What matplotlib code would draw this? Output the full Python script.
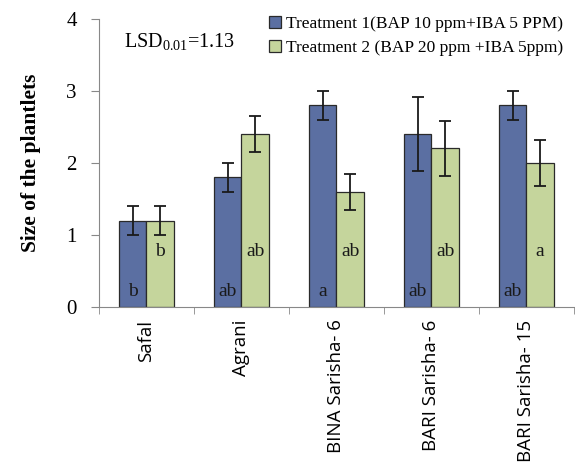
import numpy as np
import matplotlib.pyplot as plt

varieties = ["Safal", "Agrani", "BINA Sarisha- 6", "BARI Sarisha- 6", "BARI Sarisha- 15"]
t1_size = [1.2, 1.8, 2.8, 2.4, 2.8]
t1_err = [0.2, 0.2, 0.2, 0.51, 0.2]
t2_size = [1.2, 2.4, 1.6, 2.2, 2.0]
t2_err = [0.2, 0.25, 0.25, 0.38, 0.32]
t1_letters = ["b", "ab", "a", "ab", "ab"]
t2_letters = ["b", "ab", "ab", "ab", "a"]
t1_name = "Treatment 1(BAP 10 ppm+IBA 5 PPM)"
t2_name = "Treatment 2 (BAP 20 ppm +IBA 5ppm)"

serif = "Liberation Serif"
blue = "#5b6fa2"
green = "#c5d59c"

fig = plt.figure(figsize=(5.75, 4.68), dpi=100)
ax = fig.add_axes([0.172, 0.344, 0.826, 0.616])

x = np.arange(len(varieties))
w = 0.29
ax.bar(x - w / 2, t1_size, w, color=blue, edgecolor="#2a2a2a", linewidth=0.9,
       yerr=t1_err, error_kw=dict(ecolor="#1a1a1a", elinewidth=1.3, capsize=4, capthick=1.3),
       label=t1_name, zorder=2)
ax.bar(x + w / 2, t2_size, w, color=green, edgecolor="#2a2a2a", linewidth=0.9,
       yerr=t2_err, error_kw=dict(ecolor="#1a1a1a", elinewidth=1.3, capsize=4, capthick=1.3),
       label=t2_name, zorder=2)

for i in range(len(varieties)):
    ax.text(x[i] - w / 2, 0.21, t1_letters[i], ha="center", va="center",
            fontsize=14, family=serif, color="#1a1a1a", zorder=3)
    ax.text(x[i] + w / 2, 0.77, t2_letters[i], ha="center", va="center",
            fontsize=14, family=serif, color="#1a1a1a", zorder=3)

ax.text(-0.24, 3.67, r"LSD$_{\mathregular{0.01}}$=1.13", fontsize=14.5, family=serif,
        va="center", ha="left")

ax.set_xlim(-0.5, len(varieties) - 0.5)
ax.set_ylim(0, 4)
ax.set_yticks([0, 1, 2, 3, 4])
ax.set_yticklabels(["0", "1", "2", "3", "4"], fontsize=15, family=serif)
ax.set_xticks(x)
ax.set_xticklabels(varieties, rotation=90, fontsize=13.5, family="Open Sans")
ax.set_xticks(np.arange(-0.5, len(varieties)), minor=True)
ax.tick_params(axis="x", which="major", length=0, pad=9)
ax.tick_params(axis="x", which="minor", length=5, color="#888888")
ax.tick_params(axis="y", length=6, color="#888888", pad=10)

for s in ["top", "right"]:
    ax.spines[s].set_visible(False)
for s in ["left", "bottom"]:
    ax.spines[s].set_color("#888888")

ax.set_ylabel("Size of the plantlets", fontsize=15.5, family=serif, fontweight="bold", labelpad=18)

leg = ax.legend(loc="upper right", bbox_to_anchor=(1.0, 1.045), frameon=False,
                prop=dict(family=serif, size=12.5), handlelength=0.7, handleheight=0.7,
                handletextpad=0.3, labelspacing=0.45, borderaxespad=0.2)
for h in leg.legend_handles:
    h.set_edgecolor("#2a2a2a")

fig.savefig("out.png", dpi=100)
